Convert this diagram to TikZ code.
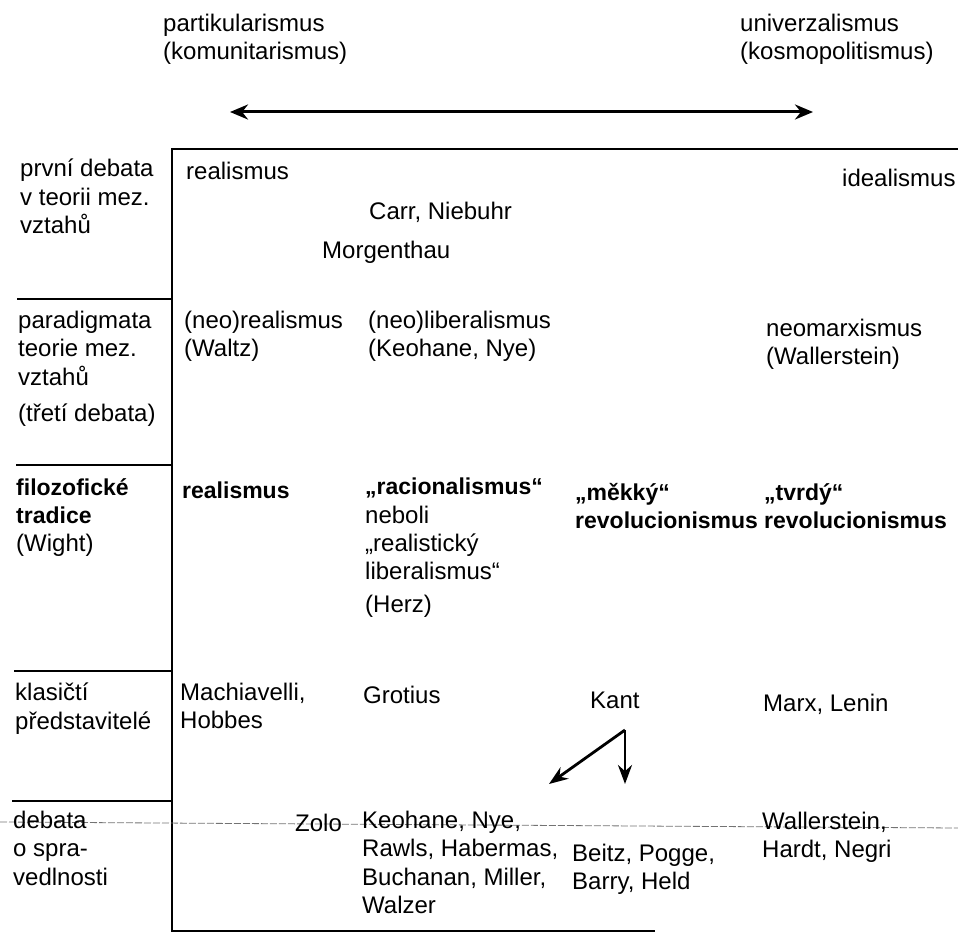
\documentclass[tikz,border=0pt]{standalone}
\usepackage{fontspec}
\setmainfont{Liberation Sans}
\usetikzlibrary{arrows.meta}
\newcommand{\tuc}[1]{{\fontsize{23}{28.3}\selectfont\bfseries #1}}

\begin{document}
\begin{tikzpicture}[x=1pt,y=-1pt]
        \tikzstyle{popis}=[anchor=north west, inner sep=0pt, align=left, font=\fontsize{24}{28.3}\selectfont, execute at begin node=\strut]
        \tikzstyle{ramec}=[draw=black, line width=1.7pt]
        \tikzstyle{cara}=[draw=black, line width=1.2pt]
        \tikzstyle{carkovana}=[draw=black!55, line width=0.8pt, dash pattern=on 7pt off 2pt]
        \tikzstyle{sipka}=[draw=black, line width=2.8pt, -{Stealth[length=19pt, width=14pt]}]

        \useasboundingbox (0,0) rectangle (958,936);

        \coordinate (sipL) at (230,112);
        \coordinate (sipP) at (813,112);
        \coordinate (LH) at (172,149);
        \coordinate (PH) at (958,149);
        \coordinate (LD) at (172,931);
        \coordinate (PD) at (655,931);

        \draw[line width=3pt, {Stealth[length=18pt, width=15pt]}-{Stealth[length=18pt, width=15pt]}] (sipL) -- (sipP);
        \draw[ramec] (PH) -- (LH) -- (LD) -- (PD);
        \foreach \y/\x in {299/17, 465/16, 671/14, 801/12}
          \draw[cara] (\x,\y) -- (172,\y);
        \draw[carkovana] (0,822) -- (958,828);

        \node[popis] (partikularismus) at (163,14) {partikularismus\\(komunitarismus)};
        \node[popis] (univerzalismus) at (740,14) {univerzalismus\\(kosmopolitismus)};

        \node[popis] (debata1) at (20,159) {první debata\\v teorii mez.\\vztahů};
        \node[popis] (paradigmata) at (18,311) {paradigmata\\teorie mez.\\vztahů\\[8pt](třetí debata)};
        \node[popis] (tradice) at (16,478) {\tuc{filozofické}\\\tuc{tradice}\\(Wight)};
        \node[popis] (klasici) at (15,683) {klasičtí\\představitelé};
        \node[popis] (spravedlnost) at (13,811) {debata\\o spra-\\vedlnosti};

        \node[popis] (realismus) at (186,159) {realismus};
        \node[popis] (carr) at (369,199) {Carr, Niebuhr};
        \node[popis] (morgenthau) at (322,238) {Morgenthau};
        \node[popis] (idealismus) at (842,166) {idealismus};

        \node[popis] (neorealismus) at (184,311) {(neo)realismus\\(Waltz)};
        \node[popis] (neoliberalismus) at (368,311) {(neo)liberalismus\\(Keohane, Nye)};
        \node[popis] (neomarxismus) at (766,319) {neomarxismus\\(Wallerstein)};

        \node[popis] (realismusW) at (182,478) {\tuc{realismus}};
        \node[popis] (racionalismus) at (365,478) {\tuc{„racionalismus“}\\neboli\\„realistický\\liberalismus“\\[4pt](Herz)};
        \node[popis] (mekky) at (575,483) {\tuc{„měkký“}\\\tuc{revolucionismus}};
        \node[popis] (tvrdy) at (764,483) {\tuc{„tvrdý“}\\\tuc{revolucionismus}};

        \node[popis] (machiavelli) at (180,683) {Machiavelli,\\Hobbes};
        \node[popis] (grotius) at (363,683) {Grotius};
        \node[popis] (kant) at (590,688) {Kant};
        \node[popis] (marx) at (763,691) {Marx, Lenin};

        \node[popis] (zolo) at (295,811) {Zolo};
        \node[popis] (keohane) at (362,811) {Keohane, Nye,\\Rawls, Habermas,\\Buchanan, Miller,\\Walzer};
        \node[popis] (beitz) at (572,844) {Beitz, Pogge,\\Barry, Held};
        \node[popis] (wallerstein) at (762,812) {Wallerstein,\\Hardt, Negri};

        \coordinate (vrchol) at (625,730);
        \coordinate (hrotL) at (549,784);
        \coordinate (hrotD) at (625,784);
        \draw[sipka] (vrchol) -- (hrotL);
        \draw[sipka] (vrchol) -- (hrotD);
      \end{tikzpicture}
\end{document}
